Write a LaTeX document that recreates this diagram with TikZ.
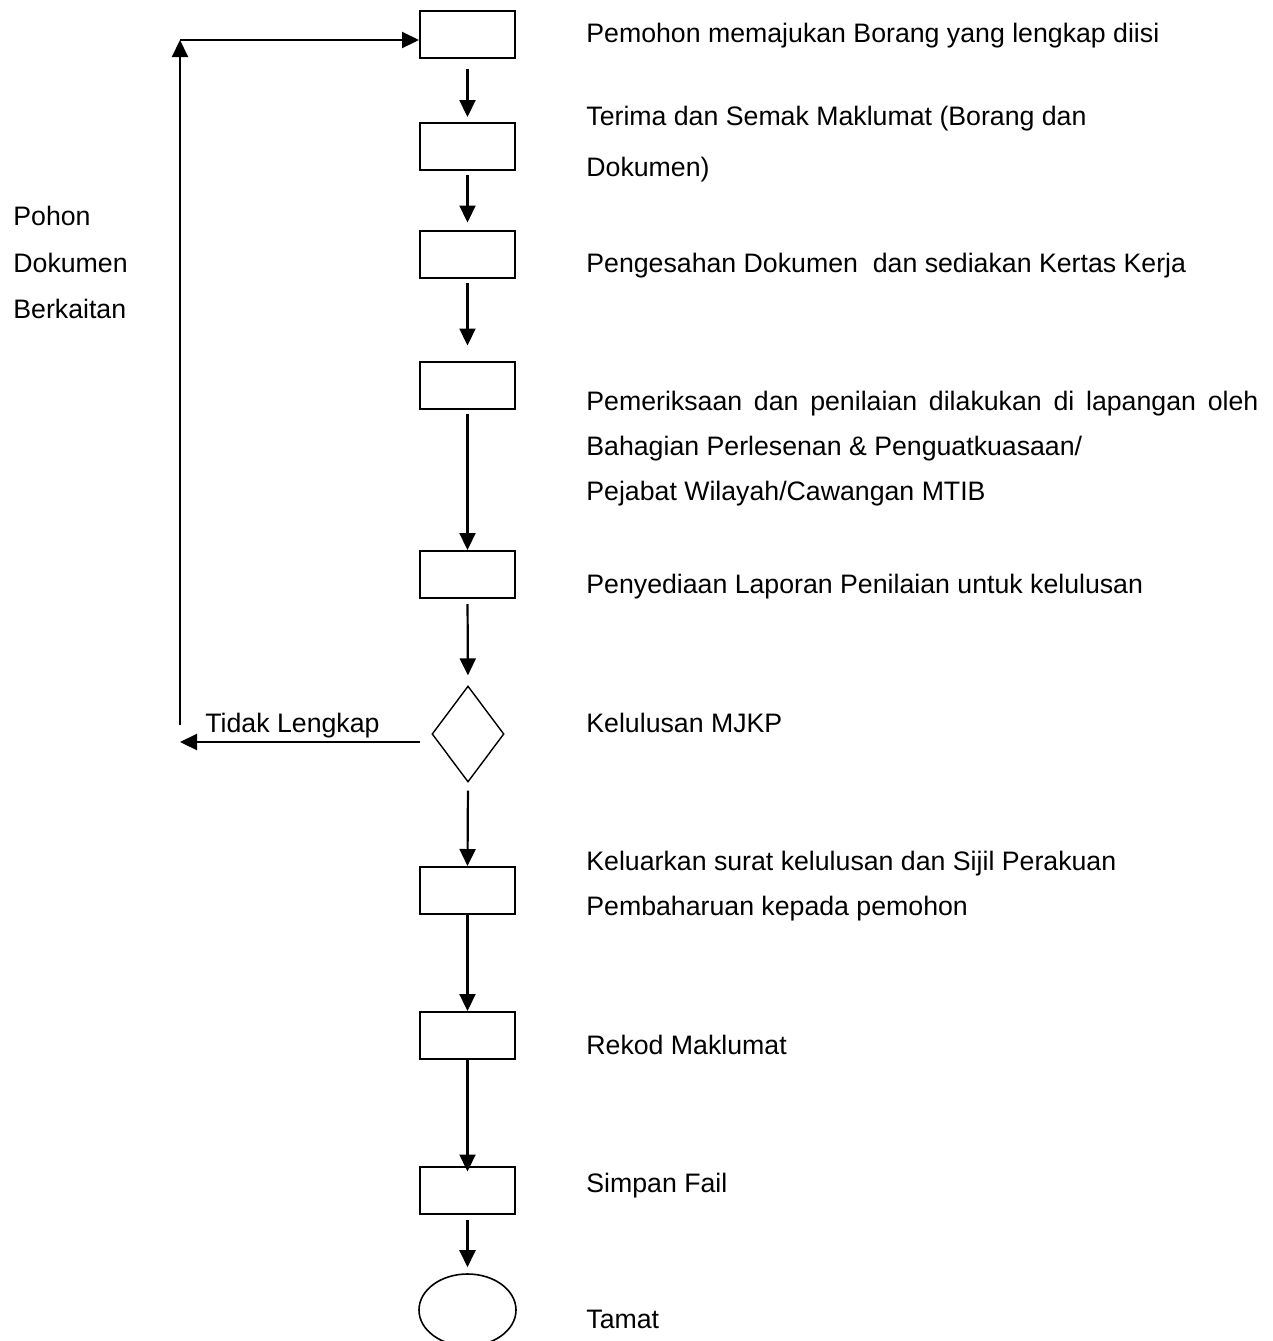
\documentclass[tikz,border=0pt]{standalone}
\usepackage{fontspec}
\setmainfont{Liberation Sans}
\usetikzlibrary{shapes.geometric,arrows.meta}
\begin{document}
\begin{tikzpicture}[x=0.5pt,y=-0.5pt,
  stepbox/.style={draw,line width=1pt,minimum width=47.5pt,minimum height=23.5pt,inner sep=0pt},
  decbox/.style={draw,diamond,line width=0.7pt,minimum width=36pt,minimum height=48pt,inner sep=0pt,aspect=0.75},
  endbox/.style={draw,ellipse,line width=0.8pt,minimum width=48.5pt,minimum height=36pt,inner sep=0pt},
  arr/.style={line width=1.1pt,-{Triangle[length=8.5pt,width=8pt]}},
  lbl/.style={anchor=base west,inner sep=0pt,font=\fontsize{13.35pt}{16pt}\selectfont}]
\useasboundingbox[fill=white] (0,0) rectangle (1273,1341);
% boxes
\node[stepbox] (b1) at (467.5,34) {};
\node[stepbox] (b2) at (467.5,146.5) {};
\node[stepbox] (b3) at (467.5,254) {};
\node[stepbox] (b4) at (467.5,385) {};
\node[stepbox] (b5) at (467.5,574.5) {};
\node[decbox]  (dm) at (468,734) {};
\node[stepbox] (b6) at (467.5,890.5) {};
\node[stepbox] (b7) at (467.5,1035.5) {};
\node[stepbox] (b8) at (467.5,1190) {};
\node[endbox]  (en) at (467.5,1310) {};
% vertical arrows
\draw[arr,shorten <=5pt,shorten >=2.5pt] (b1.south) -- (b2.north);
\draw[arr,shorten <=2pt,shorten >=3.5pt] (b2.south) -- (b3.north);
\draw[arr,shorten <=2pt,shorten >=7.5pt] (b3.south) -- (b4.north);
\draw[arr,shorten <=2pt] (b4.south) -- (b5.north);
\draw[arr,shorten <=2.5pt,shorten >=5pt] (b5.south) -- (dm.north);
\draw[arr,shorten <=4pt] (dm.south) -- (b6.north);
\draw[arr] (b6.south) -- (b7.north);
\draw[arr,shorten >=-3pt] (b7.south) -- (b8.north);
\draw[arr,shorten <=2.5pt,shorten >=3pt] (b8.south) -- (en.north);
% loop back
\coordinate (lb) at (180,742);
\coordinate (lv) at (180,725);
\coordinate (lt) at (180,40);
\draw[arr] ([xshift=-5.5pt,yshift=-4pt]dm.west) -- (lb);
\draw[arr] (lv) -- (lt);
\draw[arr] (lt) -- (b1.west |- lt);
% labels
\node[lbl] (tl) at (205,732) {Tidak Lengkap};
\node[lbl] (p1) at (13,225) {Pohon};
\node[lbl] (p2) at (13,272) {Dokumen};
\node[lbl] (p3) at (13,318) {Berkaitan};
\node[lbl] (t1) at (586,42) {Pemohon memajukan Borang yang lengkap diisi};
\node[lbl] (t2a) at (586,125) {Terima dan Semak Maklumat (Borang dan};
\node[lbl] (t2b) at (586,176) {Dokumen)};
\node[lbl] (t3) at (586,272) {Pengesahan Dokumen\ \ dan sediakan Kertas Kerja};
\node[lbl] (t4a) at (586,410) {\makebox[336pt][s]{Pemeriksaan dan penilaian dilakukan di lapangan oleh}};
\node[lbl] (t4b) at (586,455) {Bahagian Perlesenan \& Penguatkuasaan/};
\node[lbl] (t4c) at (586,500) {Pejabat Wilayah/Cawangan MTIB};
\node[lbl] (t5) at (586,593) {Penyediaan Laporan Penilaian untuk kelulusan};
\node[lbl] (t6) at (586,732) {Kelulusan MJKP};
\node[lbl] (t7a) at (586,870) {Keluarkan surat kelulusan dan Sijil Perakuan};
\node[lbl] (t7b) at (586,915) {Pembaharuan kepada pemohon};
\node[lbl] (t8) at (586,1054) {Rekod Maklumat};
\node[lbl] (t9) at (586,1192) {Simpan Fail};
\node[lbl] (t10) at (586,1328) {Tamat};
\end{tikzpicture}
\end{document}
